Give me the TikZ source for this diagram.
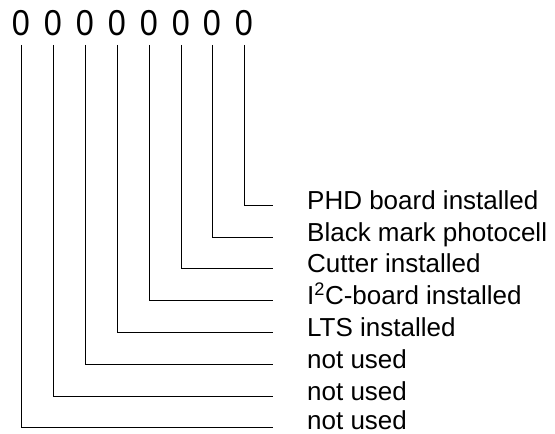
\documentclass[tikz,border=0pt]{standalone}
\usepackage{fontspec}
\setmainfont{Liberation Sans}
\usepackage{tikz}

\tikzset{
  bit/.style={font=\fontsize{36}{36}\selectfont, inner sep=0pt},
  info/.style={font=\fontsize{26}{28}\selectfont, anchor=base west, inner sep=0pt},
  wire/.style={line width=1pt, shorten <=9pt}
}

\begin{document}
\begin{tikzpicture}[x=1pt,y=1pt]
\useasboundingbox (0,0) rectangle (555,434);
% the eight bits
\node[bit] (b1) at (21,411) {\scalebox{0.9}[1]{0}};
\node[bit] (b2) at (53,411) {\scalebox{0.9}[1]{0}};
\node[bit] (b3) at (85,411) {\scalebox{0.9}[1]{0}};
\node[bit] (b4) at (117,411) {\scalebox{0.9}[1]{0}};
\node[bit] (b5) at (149,411) {\scalebox{0.9}[1]{0}};
\node[bit] (b6) at (181,411) {\scalebox{0.9}[1]{0}};
\node[bit] (b7) at (212,411) {\scalebox{0.9}[1]{0}};
\node[bit] (b8) at (244,411) {\scalebox{0.9}[1]{0}};
% meaning of each bit
\node[info] (t8) at (307,224) {PHD board installed};
\node[info] (t7) at (307,192) {Black mark photocell};
\node[info] (t6) at (307,161) {Cutter installed};
\node[info] (t5) at (307,129) {I\textsuperscript{2}C-board installed};
\node[info] (t4) at (307,97) {LTS installed};
\node[info] (t3) at (307,65) {not used};
\node[info] (t2) at (307,33) {not used};
\node[info] (t1) at (307,4) {not used};
% line ends
\coordinate (e8) at (273,228);
\coordinate (e7) at (273,196);
\coordinate (e6) at (273,165);
\coordinate (e5) at (273,133);
\coordinate (e4) at (273,101);
\coordinate (e3) at (273,69);
\coordinate (e2) at (273,37);
\coordinate (e1) at (273,6);
\draw[wire] (b8.south) |- (e8);
\draw[wire] (b7.south) |- (e7);
\draw[wire] (b6.south) |- (e6);
\draw[wire] (b5.south) |- (e5);
\draw[wire] (b4.south) |- (e4);
\draw[wire] (b3.south) |- (e3);
\draw[wire] (b2.south) |- (e2);
\draw[wire] (b1.south) |- (e1);
\end{tikzpicture}
\end{document}
